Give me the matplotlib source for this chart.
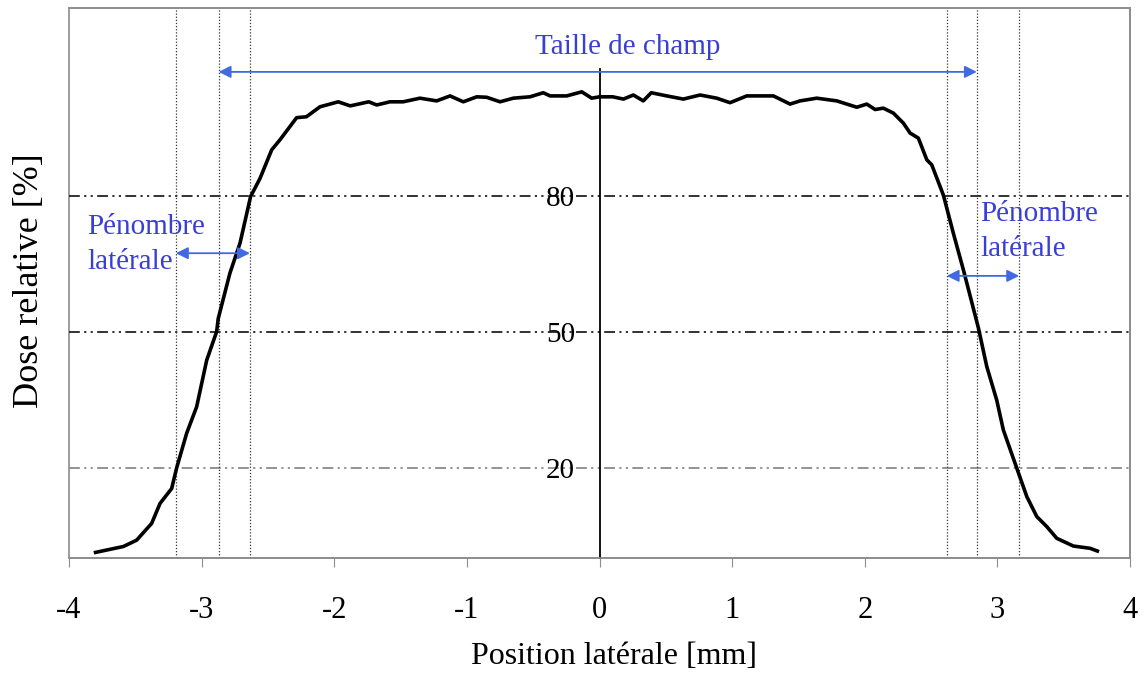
import matplotlib
matplotlib.use("Agg")
import matplotlib.pyplot as plt
from matplotlib.patches import Rectangle

# ---- data ----
position_mm = [-3.80, -3.59, -3.49, -3.377, -3.314, -3.226, -3.189, -3.113, -3.038, -2.962,
               -2.887, -2.875, -2.787, -2.711, -2.631, -2.560, -2.472, -2.410, -2.284, -2.21,
               -2.108, -1.97, -1.88, -1.74, -1.68, -1.58, -1.48, -1.354, -1.228, -1.127,
               -1.027, -0.926, -0.851, -0.75, -0.65, -0.524, -0.424, -0.373, -0.247, -0.134,
               -0.059, 0.0, 0.10, 0.18, 0.255, 0.33, 0.39, 0.507, 0.632, 0.758,
               0.884, 0.984, 1.11, 1.311, 1.437, 1.512, 1.638, 1.789, 1.94, 2.015,
               2.078, 2.14, 2.216, 2.291, 2.342, 2.404, 2.468, 2.505, 2.593, 2.668,
               2.744, 2.857, 2.92, 2.995, 3.045, 3.146, 3.222, 3.297, 3.372, 3.448,
               3.573, 3.699, 3.754]
dose_pct = [1.3, 2.6, 4.0, 7.7, 12.1, 15.4, 19.9, 27.6, 33.4, 43.7,
            50.0, 52.9, 62.9, 69.5, 79.8, 83.8, 90.1, 92.3, 97.2, 97.4,
            99.6, 100.7, 99.8, 100.7, 100.0, 100.7, 100.7, 101.5, 100.9, 102.0,
            100.7, 101.8, 101.7, 100.7, 101.5, 101.8, 102.7, 102.0, 102.0, 102.9,
            101.5, 101.8, 101.8, 101.3, 102.2, 100.9, 102.7, 102.0, 101.3, 102.2,
            101.5, 100.5, 102.0, 102.0, 100.2, 100.9, 101.5, 100.9, 99.5, 100.2,
            99.0, 99.3, 98.2, 96.0, 93.8, 92.7, 87.9, 86.8, 80.1, 71.7,
            63.6, 50.8, 42.3, 34.9, 28.3, 19.9, 13.6, 9.2, 7.0, 4.4,
            2.7, 2.2, 1.6]

dose_levels = [80, 50, 20]
level_colors = ["#222222", "#222222", "#8a8a8a"]
left_marks = [-3.194, -2.872, -2.636]
right_marks = [2.618, 2.845, 3.164]
x_ticks = [-4, -3, -2, -1, 0, 1, 2, 3, 4]

field_label = "Taille de champ"
penumbra_label = "Pénombre\nlatérale"
xlabel = "Position latérale [mm]"
ylabel = "Dose relative [%]"

# ---- figure ----
plt.rcParams['font.family'] = ['Liberation Serif', 'DejaVu Serif']
fig = plt.figure(figsize=(11.45, 6.81), dpi=100)
ax = fig.add_axes([0.0603, 0.1802, 0.9266, 0.8081])
ax.set_xlim(-4, 4)
ax.set_ylim(0, 121.4)

dashdotdot = (6, 2.4, 1.2, 2.4, 1.2, 2.4)
for lvl, c in zip(dose_levels, level_colors):
    ax.axhline(lvl, color=c, lw=1.3, dashes=dashdotdot, zorder=1)

for xm in left_marks + right_marks:
    ax.axvline(xm, color="#333333", lw=0.9, ls=(0, (1, 1.5)), zorder=1)

ax.plot(position_mm, dose_pct, color="black", lw=2.6, zorder=3, solid_joinstyle='round')

arrow_color = "#4169e1"
text_color = "#3a3fd4"
ap = dict(arrowstyle='<|-|>', color=arrow_color, lw=1.3, mutation_scale=18,
          shrinkA=0, shrinkB=0)
ax.annotate("", xy=(right_marks[1], 107.3), xytext=(left_marks[1], 107.3), arrowprops=ap)
ax.annotate("", xy=(left_marks[2], 67.3), xytext=(left_marks[0], 67.3), arrowprops=ap)
ax.annotate("", xy=(right_marks[2], 62.3), xytext=(right_marks[0], 62.3), arrowprops=ap)

ax.text(0.21, 112.8, field_label, color=text_color, fontsize=21, ha='center', va='center')
ax.text(-3.865, 69.2, penumbra_label, color=text_color, fontsize=21, ha='left', va='center',
        linespacing=1.45)
ax.text(2.87, 72.0, penumbra_label, color=text_color, fontsize=21, ha='left', va='center',
        linespacing=1.45)

# axes styling
frame_gray = "#8c8c8c"
ax.spines['left'].set_position(('data', 0))
ax.spines['left'].set_bounds(0, 108)
ax.spines['left'].set_color('black')
ax.spines['left'].set_linewidth(1.3)
for s in ['top', 'right', 'bottom']:
    ax.spines[s].set_color(frame_gray)
    ax.spines[s].set_linewidth(1.2)
ax.add_patch(Rectangle((0, 0), 1, 1, transform=ax.transAxes, fill=False,
                       edgecolor=frame_gray, lw=1.2, clip_on=False, zorder=0))

ax.set_yticks(dose_levels)
ax.set_yticklabels([str(v) for v in dose_levels])
ax.tick_params(axis='y', length=0, pad=17.5, labelsize=21)
ax.set_xticks(x_ticks)
ax.set_xticklabels([str(v) for v in x_ticks])
ax.tick_params(axis='x', direction='out', length=6.5, color=frame_gray, pad=21, labelsize=22)

ax.set_xlabel(xlabel, fontsize=23)
ax.xaxis.set_label_coords(0.514, -0.152)
ax.set_ylabel(ylabel, fontsize=26)
ax.yaxis.set_label_coords(-0.022, 0.504)

fig.savefig("out.png", dpi=100)
